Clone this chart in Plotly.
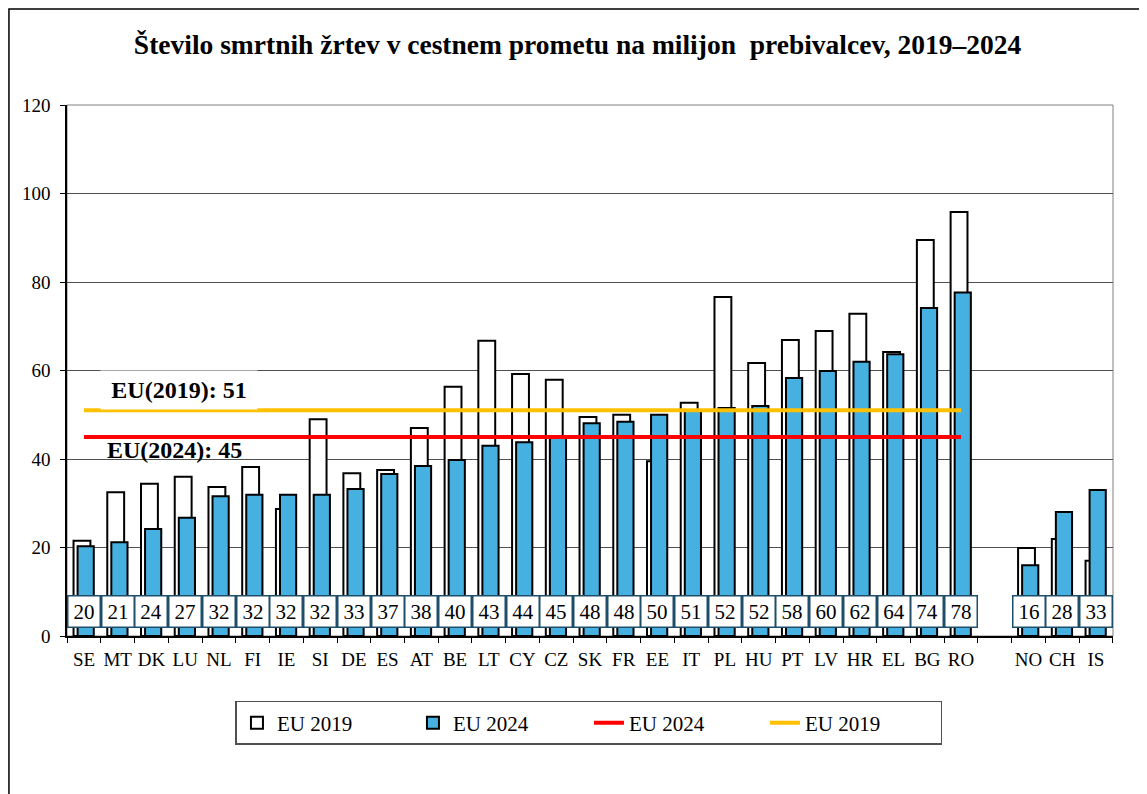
import plotly.graph_objects as go

# data
countries = ['SE', 'MT', 'DK', 'LU', 'NL', 'FI', 'IE', 'SI', 'DE', 'ES', 'AT', 'BE', 'LT', 'CY',
             'CZ', 'SK', 'FR', 'EE', 'IT', 'PL', 'HU', 'PT', 'LV', 'HR', 'EL', 'BG', 'RO',
             ' ', 'NO', 'CH', 'IS']
deaths_2019 = [21.5, 32.5, 34.4, 36.0, 33.7, 38.2, 28.7, 49.0, 36.8, 37.5, 47.0, 56.3, 66.7, 59.2,
               57.9, 49.5, 50.0, 39.5, 52.7, 76.6, 61.7, 66.9, 68.9, 72.8, 64.2, 89.5, 95.8,
               None, 19.9, 21.9, 17.0]
deaths_2024 = [20.3, 21.2, 24.2, 26.7, 31.6, 31.9, 31.9, 31.9, 33.2, 36.6, 38.4, 39.8, 43.0, 43.8,
               45.0, 48.1, 48.4, 50.0, 51.0, 51.5, 52.0, 58.3, 59.9, 62.0, 63.7, 74.1, 77.6,
               None, 16.0, 28.0, 33.0]
eu_2019 = 51
eu_2024 = 45
eu_span = ['SE', 'RO']

serif = "Times New Roman, Liberation Serif, serif"
blue = '#46B0E0'

fig = go.Figure()
fig.add_trace(go.Bar(x=countries, y=deaths_2019, name='EU 2019',
                     marker=dict(color='white', line=dict(color='black', width=2)),
                     width=0.5, offset=-0.31))
fig.add_trace(go.Bar(x=countries, y=deaths_2024, name='EU 2024',
                     marker=dict(color=blue, line=dict(color='black', width=2)),
                     width=0.48, offset=-0.19))
fig.add_trace(go.Scatter(x=eu_span, y=[eu_2024, eu_2024], mode='lines', name='EU 2024',
                         line=dict(color='#FF0000', width=4)))
fig.add_trace(go.Scatter(x=eu_span, y=[eu_2019, eu_2019], mode='lines', name='EU 2019',
                         line=dict(color='#FFC000', width=4)))

# value boxes near the bottom of each bar
for c, v in zip(countries, deaths_2024):
    if v is None:
        continue
    fig.add_annotation(x=c, y=5.6, xref='x', yref='y', text=str(round(v)), showarrow=False,
                       font=dict(family=serif, size=21, color='black'),
                       bgcolor='white', bordercolor='#1F4E6B', borderwidth=1.5,
                       borderpad=1, width=29, height=28)

# EU average labels (the 2019 one sits on a white box that nibbles the line, as in the original)
fig.add_annotation(x=0.107, xanchor='center', y=55.6, xref='paper', yref='y',
                   text='<b>EU(2019): 51</b>', showarrow=False, bgcolor='white',
                   width=156, height=38, borderpad=0,
                   font=dict(family=serif, size=24, color='black'))
fig.add_annotation(x=0.103, xanchor='center', y=42.0, xref='paper', yref='y',
                   text='<b>EU(2024): 45</b>', showarrow=False,
                   font=dict(family=serif, size=24, color='black'))

# plot-area frame and outer chart border
fig.add_shape(type='rect', xref='paper', yref='paper', x0=0, x1=1, y0=0, y1=1,
              line=dict(color='#808080', width=1), layer='below')
fig.add_shape(type='rect', xref='paper', yref='paper', x0=-0.0555, x1=1.0258, y0=-0.32, y1=1.181,
              line=dict(color='black', width=1.5))

fig.update_layout(
    width=1139, height=786,
    barmode='overlay',
    plot_bgcolor='white', paper_bgcolor='white',
    font=dict(family=serif, size=19, color='black'),
    margin=dict(l=59, r=34, t=97, b=158),
    title=dict(text='<b>Število smrtnih žrtev v cestnem prometu na milijon  prebivalcev, 2019–2024</b>',
               x=0.5, xanchor='center', y=0.954, yanchor='middle',
               font=dict(family=serif, size=27.5, color='black')),
    xaxis=dict(type='category', categoryorder='array', categoryarray=countries,
               tickson='boundaries', ticks='outside', ticklen=5, tickcolor='black',
               showline=True, linecolor='black', linewidth=1.5, showgrid=False,
               tickangle=0, automargin=False, ticklabelstandoff=5,
               tickfont=dict(family=serif, size=19)),
    yaxis=dict(range=[0, 120], dtick=20, ticks='outside', ticklen=5, tickcolor='black',
               showline=True, linecolor='black', linewidth=1.5,
               showgrid=True, gridcolor='#505050', gridwidth=1, zeroline=False,
               automargin=False, ticklabelstandoff=6,
               tickfont=dict(family=serif, size=19)),
    legend=dict(orientation='h', x=0.499, xanchor='center', y=-0.1224, yanchor='top',
                bordercolor='#505050', borderwidth=1.5, bgcolor='white',
                entrywidth=131, entrywidthmode='pixels',
                font=dict(family=serif, size=21)),
    showlegend=True,
)

fig.write_html("out.html")
